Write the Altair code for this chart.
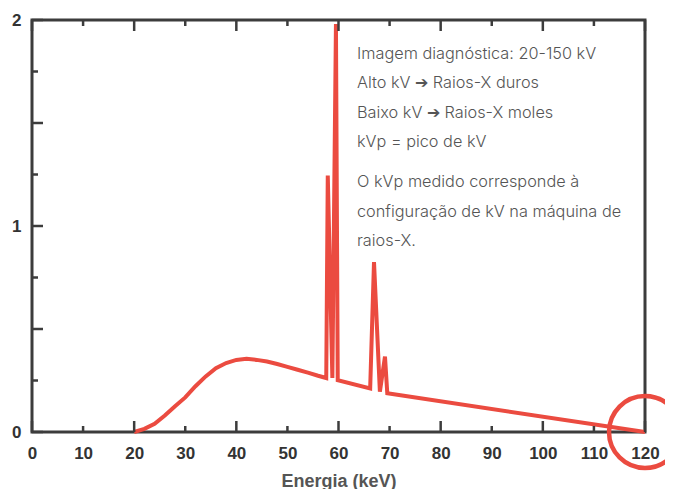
import altair as alt
import pandas as pd

# ---- data ----
energy = [20, 22, 24, 26, 28, 30, 32, 34, 36, 38, 40, 42, 44, 46, 48, 50, 52, 54, 56,
          57.6, 57.9, 58.8, 59.5, 59.85, 66.2, 66.95, 68.1, 69.1, 69.55, 120]
intensity = [0, 0.015, 0.04, 0.08, 0.125, 0.168, 0.222, 0.27, 0.31, 0.335, 0.35, 0.355,
             0.35, 0.342, 0.33, 0.316, 0.302, 0.288, 0.273,
             0.262, 1.245, 0.262, 1.98, 0.252, 0.212, 0.825, 0.196, 0.366, 0.188, 0]

circle_energy = [120]
circle_intensity = [0]

x_labels = [0, 10, 20, 30, 40, 50, 60, 70, 80, 90, 100, 110, 120]
y_labels = [0, 1, 2]
x_major = [0, 20, 40, 60, 80, 100, 120]
x_minor = [10, 30, 50, 70, 90, 110]
y_major = [0, 0.5, 1, 1.5, 2]
y_minor = [0.25, 0.75, 1.25, 1.75]

note_block1 = ["Imagem diagnóstica: 20-150 kV",
               "Alto kV ➔ Raios-X duros",
               "Baixo kV ➔ Raios-X moles",
               "kVp = pico de kV"]
note_block2 = ["O kVp medido corresponde à",
               "configuração de kV na máquina de",
               "raios-X."]

x_title = "Energia (keV)"

# ---- styling ----
W, H = 613, 412
RED = "#eb4b40"
FRAME = "#3c3c3c"
MAJ, MIN = 11, 6

xs = alt.Scale(domain=[0, 120], nice=False, zero=False)
ys = alt.Scale(domain=[0, 2], nice=False, zero=False)

xaxis = alt.Axis(values=x_labels, title=x_title, domain=False, ticks=False,
                 tickSize=0, grid=False, labelFlush=False,
                 labelExpr="format(datum.value, 'd')",
                 labelOverlap=False,
                 labelFont="Liberation Sans", labelFontWeight="bold",
                 labelFontSize=17, labelColor="#333", labelPadding=13,
                 titleFont="Liberation Sans", titleFontWeight="bold",
                 titleFontSize=18, titleColor="#555", titlePadding=11)
yaxis = alt.Axis(values=y_labels, title=None, domain=False, ticks=False,
                 tickSize=0, grid=False, labelFlush=False,
                 labelExpr="format(datum.value, 'd')",
                 labelOverlap=False,
                 labelFont="Liberation Sans", labelFontWeight="bold",
                 labelFontSize=17, labelColor="#333", labelPadding=11)

spec_df = pd.DataFrame({"energy": energy, "intensity": intensity})

line = alt.Chart(spec_df).mark_line(color=RED, strokeWidth=4).encode(
    x=alt.X("energy:Q", scale=xs, axis=xaxis),
    y=alt.Y("intensity:Q", scale=ys, axis=yaxis),
    order=alt.Order("energy:Q")
)

circ = alt.Chart(pd.DataFrame({"energy": circle_energy, "intensity": circle_intensity})).mark_point(
    shape="circle", filled=False, size=5184, strokeWidth=4.5, color=RED, opacity=1
).encode(x=alt.X("energy:Q", scale=xs, axis=xaxis),
         y=alt.Y("intensity:Q", scale=ys, axis=yaxis))


def xticks(vals, length, top):
    df = pd.DataFrame({"energy": vals})
    if top:
        y1, y2 = alt.value(0), alt.value(length)
    else:
        y1, y2 = alt.value(H), alt.value(H - length)
    return alt.Chart(df).mark_rule(color=FRAME, strokeWidth=2.5).encode(
        x=alt.X("energy:Q", scale=xs, axis=xaxis), y=y1, y2=y2)


def yticks(vals, length):
    df = pd.DataFrame({"intensity": vals})
    return alt.Chart(df).mark_rule(color=FRAME, strokeWidth=2.5).encode(
        y=alt.Y("intensity:Q", scale=ys, axis=yaxis), x=alt.value(0), x2=alt.value(length))


dummy = pd.DataFrame({"k": [0]})
txt_style = dict(align="left", baseline="alphabetic", font="Inter", fontSize=16.3,
                 fontWeight=300, color="#555", lineHeight=29.5)
note1 = alt.Chart(dummy).mark_text(text=note_block1, **txt_style).encode(
    x=alt.value(325), y=alt.value(38.5))
note2 = alt.Chart(dummy).mark_text(text=note_block2, **txt_style).encode(
    x=alt.value(325), y=alt.value(167))

chart = alt.layer(
    line, circ,
    xticks(x_major, MAJ, False), xticks(x_minor, MIN, False),
    xticks(x_major, MAJ, True), xticks(x_minor, MIN, True),
    yticks(y_major, MAJ), yticks(y_minor, MIN),
    note1, note2
).properties(
    width=W, height=H, autosize="none",
    padding={"left": 24, "top": 12, "right": 20, "bottom": 57}
).configure_view(stroke=FRAME, strokeWidth=3)

chart.save("out.html", embed_options={"renderer": "svg", "actions": False})
